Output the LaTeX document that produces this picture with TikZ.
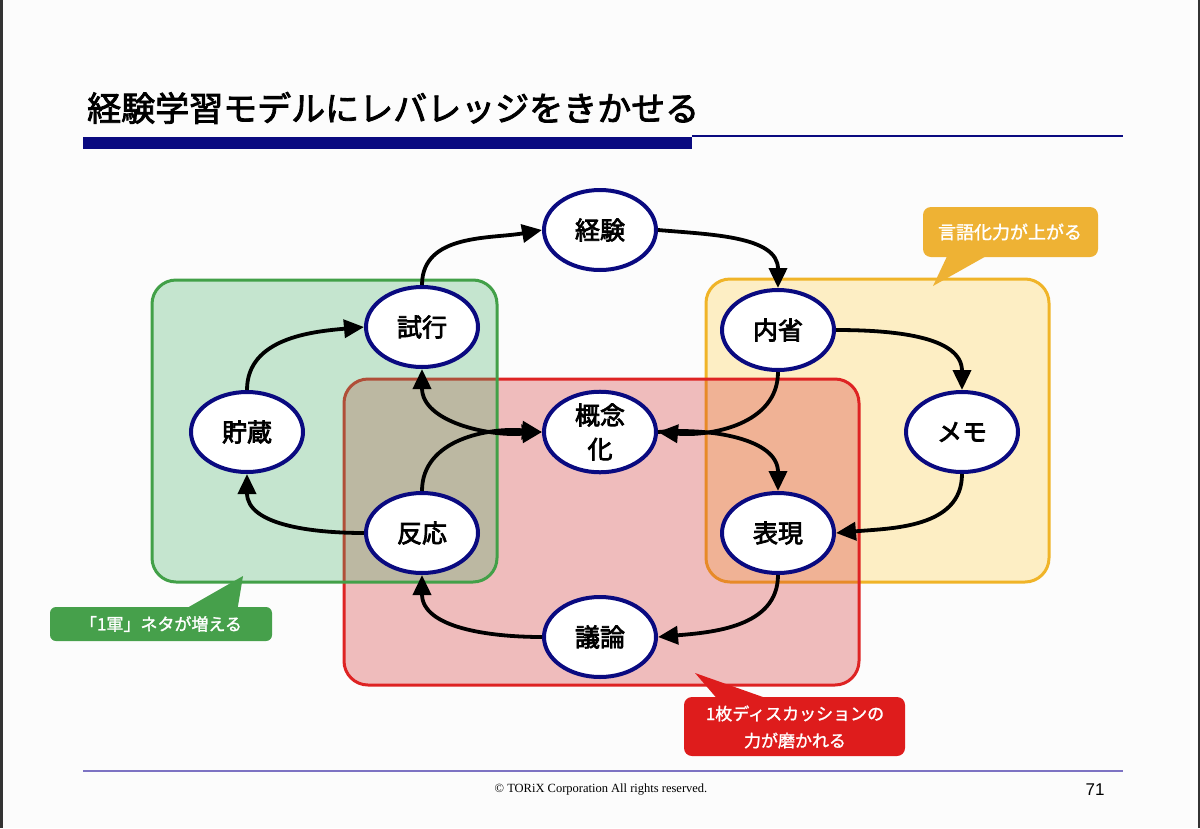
\documentclass[tikz,border=0pt]{standalone}
\usepackage{fontspec}
\setmainfont{Noto Sans CJK JP}
\newfontfamily\nodefont{Noto Sans CJK JP}[FakeBold=3]
\newfontfamily\titlefont{Noto Sans CJK JP}[FakeBold=2.5]
\newfontfamily\callfont{Noto Sans CJK JP}[FakeBold=1.5]
\newfontfamily\serifen{Liberation Serif}
\newfontfamily\sansen{Liberation Sans}
\usetikzlibrary{arrows.meta,shapes.geometric}
\definecolor{navy}{RGB}{10,10,128}
\definecolor{gfill}{RGB}{72,178,105}
\definecolor{gline}{RGB}{66,160,72}
\definecolor{rfill}{RGB}{212,42,42}
\definecolor{rline}{RGB}{222,35,35}
\definecolor{yfill}{RGB}{253,238,196}
\definecolor{yline}{RGB}{240,180,40}
\definecolor{ycall}{RGB}{238,178,52}
\definecolor{gcall}{RGB}{70,160,75}
\definecolor{rcall}{RGB}{222,28,28}
\definecolor{footline}{RGB}{125,115,195}
\definecolor{pagebg}{RGB}{252,252,252}
\tikzset{
  stage/.style={ellipse, draw=navy, line width=4pt, fill=white,
    minimum width=112pt, minimum height=80pt, inner sep=0pt,
    font=\nodefont\fontsize{25}{28}\selectfont, align=center},
  tip/.tip={Triangle[length=20pt,width=18pt]},
  arr/.style={-tip, line width=3.8pt, black},
  dblarr/.style={tip-tip, line width=3.8pt, black},
  groupbox/.style={line width=3pt, rounded corners=24pt},
  calltext/.style={text=white, align=center, font=\callfont\fontsize{17}{27}\selectfont}
}
\begin{document}
\begin{tikzpicture}[x=1pt,y=-1pt]
\useasboundingbox (0,0) rectangle (1200,828);
\fill[pagebg] (0,0) rectangle (1200,828);
\fill[black!80] (0,0) rectangle (2.5,828);
\fill[black!80] (1198,0) rectangle (1200,828);

% title
\node[anchor=base west, inner sep=0pt, font=\titlefont\fontsize{34}{38}\selectfont] (title) at (87,121) {経験学習モデルにレバレッジをきかせる};
\fill[navy] (83,137) rectangle (692,149);
\draw[navy, line width=1.2pt] (692,136) -- (1123,136);

% group boxes
\draw[groupbox, draw=yline, fill=yfill] (706,279) rectangle (1049,582);
\draw[groupbox, draw=rline, fill=rfill, fill opacity=0.3] (344,379) rectangle (859,685);
\draw[groupbox, draw=gline, fill=gfill, fill opacity=0.3] (152,280) rectangle (497,582);

% stages
\node[stage] (keiken) at (600,230) {経験};
\node[stage] (naisei) at (778,330) {内省};
\node[stage] (memo)   at (962,432) {メモ};
\node[stage] (hyogen) at (778,533) {表現};
\node[stage] (giron)  at (600,637) {議論};
\node[stage] (hanno)  at (422,533) {反応};
\node[stage] (chozo)  at (247,432) {貯蔵};
\node[stage] (shikou) at (422,327) {試行};
\node[stage, font=\nodefont\fontsize{25}{34}\selectfont] (gainen) at (600,432) {概念\\化};

% connectors
\draw[arr] (shikou.north) to[out=90,in=190] (keiken.west);
\draw[arr] (keiken.east) to[out=-5,in=90] (naisei.north);
\draw[arr] (naisei.east) to[out=0,in=90] (memo.north);
\draw[arr] (memo.south) to[out=-90,in=5] (hyogen.east);
\draw[arr] (hyogen.south) to[out=-90,in=5] (giron.east);
\draw[arr] (giron.west) to[out=180,in=-90] (hanno.south);
\draw[arr] (hanno.west) to[out=180,in=-90] (chozo.south);
\draw[arr] (chozo.north) to[out=90,in=185] (shikou.west);
\draw[dblarr] (shikou.south) to[out=-90,in=185] (gainen.west);
\draw[arr] (hanno.north) to[out=90,in=175] (gainen.west);
\draw[arr] (naisei.south) to[out=-90,in=-5] (gainen.east);
\draw[arr] (gainen.east) to[out=5,in=90] (hyogen.north);

% callouts
\fill[ycall] (950,250) -- (933,286) -- (997,250) -- cycle;
\fill[ycall, rounded corners=8pt] (923,207) rectangle (1098,257);
\node[calltext, font=\callfont\fontsize{18}{22}\selectfont] (ytext) at (1010,232) {言語化力が上がる};

\fill[gcall] (180,612) -- (243,576) -- (237,612) -- cycle;
\fill[gcall, rounded corners=6pt] (50,607) rectangle (272,641);
\node[calltext] (gtext) at (161,624) {「1軍」ネタが増える};

\fill[rcall] (720,702) -- (695,673) -- (777,702) -- cycle;
\fill[rcall, rounded corners=8pt] (684,697) rectangle (905,756);
\node[calltext] (rtext) at (795,727) {1枚ディスカッションの\\力が磨かれる};

% footer
\draw[footline, line width=1.2pt] (83,771) -- (1123,771);
\node[font=\serifen\fontsize{12.5}{14}\selectfont] (foot) at (601,790) {© TORiX Corporation All rights reserved.};
\node[font=\sansen\fontsize{17}{20}\selectfont] (page) at (1095,790) {71};
\end{tikzpicture}
\end{document}
